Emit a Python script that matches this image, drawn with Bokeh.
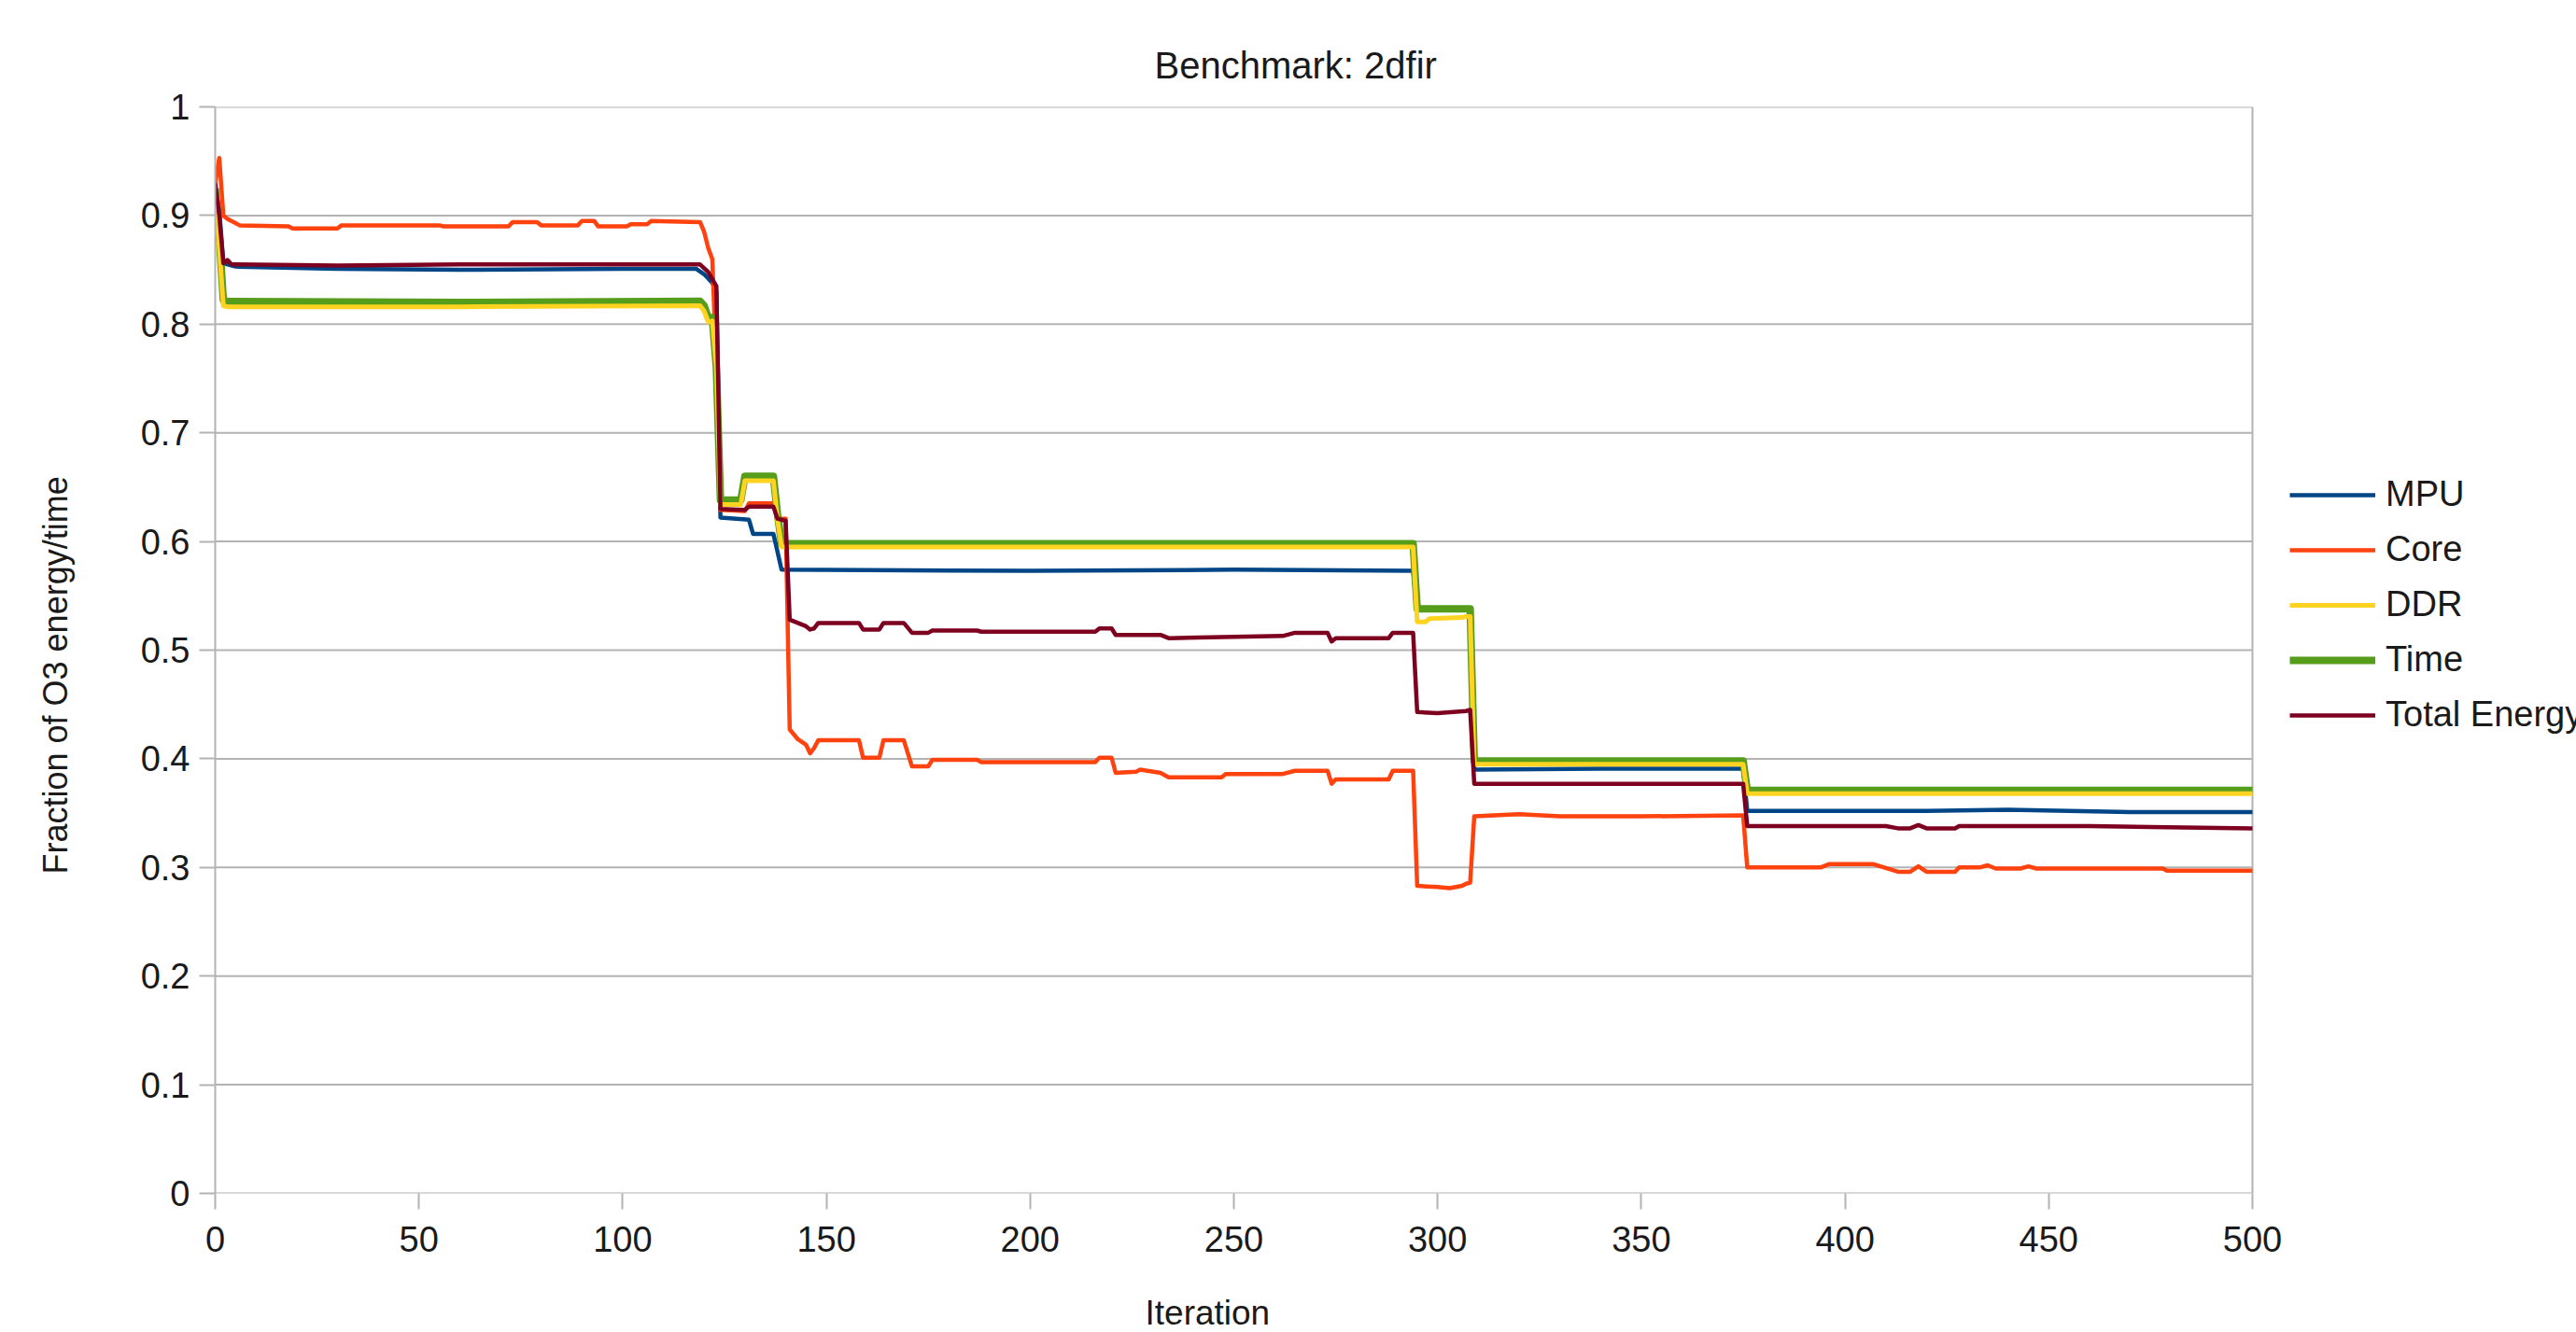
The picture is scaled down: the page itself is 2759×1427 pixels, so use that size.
from bokeh.plotting import figure
from bokeh.models import Legend, LegendItem, FixedTicker, Title
from bokeh.embed import file_html
from bokeh.resources import INLINE

# ---------------- data ----------------
series_names = ["MPU", "Core", "DDR", "Time", "Total Energy"]

mpu_x = [0, 1, 2, 5, 30, 60, 100, 118, 120, 122, 123, 124, 131, 132, 137, 139, 200, 250, 294, 295, 308, 309, 340, 375, 376, 420, 440, 470, 500]
mpu_y = [0.925, 0.905, 0.856, 0.853, 0.851, 0.850, 0.851, 0.851, 0.846, 0.838, 0.830, 0.622, 0.620, 0.607, 0.607, 0.574, 0.573, 0.574, 0.573, 0.538, 0.538, 0.390, 0.391, 0.391, 0.352, 0.352, 0.353, 0.351, 0.351]

core_x = [0, 1, 2, 3, 6, 18, 19, 30, 31, 55, 56, 72, 73, 79, 80, 89, 90, 93, 94, 101, 102, 106, 107, 119, 120, 121, 122, 123, 124, 130, 131, 137, 138, 140, 141, 143, 145, 146, 147, 148, 158, 159, 163, 164, 169, 171, 175, 176, 187, 188, 216, 217, 220, 221, 226, 227, 232, 234, 247, 248, 262, 265, 273, 274, 275, 288, 289, 294, 295, 300, 303, 306, 307, 308, 309, 320, 330, 350, 375, 376, 394, 396, 407, 413, 416, 418, 420, 427, 428, 433, 435, 437, 443, 445, 447, 478, 479, 500]
core_y = [0.930, 0.953, 0.900, 0.897, 0.891, 0.890, 0.888, 0.888, 0.891, 0.891, 0.890, 0.890, 0.894, 0.894, 0.891, 0.891, 0.895, 0.895, 0.890, 0.890, 0.892, 0.892, 0.895, 0.894, 0.885, 0.870, 0.860, 0.760, 0.629, 0.628, 0.635, 0.635, 0.621, 0.621, 0.427, 0.418, 0.413, 0.405, 0.410, 0.417, 0.417, 0.401, 0.401, 0.417, 0.417, 0.393, 0.393, 0.399, 0.399, 0.397, 0.397, 0.401, 0.401, 0.387, 0.388, 0.390, 0.387, 0.383, 0.383, 0.386, 0.386, 0.389, 0.389, 0.377, 0.381, 0.381, 0.389, 0.389, 0.283, 0.282, 0.281, 0.283, 0.285, 0.286, 0.347, 0.349, 0.347, 0.347, 0.348, 0.300, 0.300, 0.303, 0.303, 0.296, 0.296, 0.301, 0.296, 0.296, 0.300, 0.300, 0.302, 0.299, 0.299, 0.301, 0.299, 0.299, 0.297, 0.297]

ddr_x = [0, 1, 2, 3, 60, 119, 120, 121, 122, 123, 124, 129, 130, 137, 138, 139, 294, 295, 297, 298, 306, 307, 308, 309, 375, 376, 500]
ddr_y = [0.920, 0.870, 0.817, 0.816, 0.816, 0.817, 0.812, 0.802, 0.803, 0.760, 0.634, 0.634, 0.656, 0.656, 0.620, 0.595, 0.595, 0.526, 0.526, 0.529, 0.530, 0.531, 0.531, 0.395, 0.395, 0.368, 0.368]

time_x = [0, 1, 2, 3, 60, 119, 120, 121, 122, 123, 124, 129, 130, 137, 138, 139, 294, 295, 308, 309, 375, 376, 500]
time_y = [0.925, 0.880, 0.822, 0.821, 0.820, 0.821, 0.817, 0.806, 0.806, 0.760, 0.638, 0.638, 0.660, 0.660, 0.625, 0.598, 0.598, 0.538, 0.538, 0.398, 0.398, 0.371, 0.371]

total_x = [0, 1, 2, 3, 4, 30, 60, 100, 119, 121, 123, 124, 130, 131, 137, 138, 140, 141, 145, 146, 147, 148, 158, 159, 163, 164, 169, 171, 175, 176, 187, 188, 216, 217, 220, 221, 232, 234, 262, 265, 273, 274, 275, 288, 289, 294, 295, 300, 307, 308, 309, 350, 375, 376, 410, 413, 416, 418, 420, 427, 428, 460, 479, 500]
total_y = [0.930, 0.900, 0.856, 0.859, 0.855, 0.854, 0.855, 0.855, 0.855, 0.848, 0.835, 0.630, 0.629, 0.632, 0.632, 0.621, 0.619, 0.528, 0.522, 0.519, 0.520, 0.525, 0.525, 0.519, 0.519, 0.525, 0.525, 0.516, 0.516, 0.518, 0.518, 0.517, 0.517, 0.520, 0.520, 0.514, 0.514, 0.511, 0.513, 0.516, 0.516, 0.508, 0.511, 0.511, 0.516, 0.516, 0.443, 0.442, 0.444, 0.445, 0.377, 0.377, 0.377, 0.338, 0.338, 0.336, 0.336, 0.339, 0.336, 0.336, 0.338, 0.338, 0.337, 0.336]

x_ticks = [0, 50, 100, 150, 200, 250, 300, 350, 400, 450, 500]
y_ticks = [0, 0.1, 0.2, 0.3, 0.4, 0.5, 0.6, 0.7, 0.8, 0.9, 1]
y_tick_labels = ["0", "0.1", "0.2", "0.3", "0.4", "0.5", "0.6", "0.7", "0.8", "0.9", "1"]
x_min, x_max = 0, 500
y_min, y_max = 0, 1

# ---------------- layout / styling ----------------
FONT = "Liberation Sans"
GRID = "#b3b3b3"
TEXT = "#1a1a1a"
colors = {"MPU": "#004586", "Core": "#ff420e", "DDR": "#ffd320", "Time": "#579d1c", "Total Energy": "#7e0021"}

W, H = 2759, 1427
PLOT_LEFT, PLOT_RIGHT = 230, 2412          # pixel extent of the 0..500 plot area
# the frame runs to the right canvas edge so the legend can sit beside the plot area
view_x_end = x_max * (W - PLOT_LEFT) / (PLOT_RIGHT - PLOT_LEFT)

p = figure(width=W, height=H, output_backend="svg", toolbar_location=None,
           x_range=(x_min, view_x_end), y_range=(y_min, y_max),
           min_border_left=PLOT_LEFT, min_border_right=0, min_border_top=114, min_border_bottom=149,
           title=None)

p.background_fill_color = "white"
p.border_fill_color = "white"
p.outline_line_color = None

title = Title(text="Benchmark: 2dfir", align="left", offset=1006,
              text_font=FONT, text_font_size="40px", text_font_style="normal",
              text_color=TEXT, standoff=46)
p.add_layout(title, "above")

p.xgrid.visible = False
p.ygrid.visible = False

# horizontal grid lines and right border of the plot area (0..500)
p.segment(x0=[x_min] * len(y_ticks), y0=y_ticks, x1=[x_max] * len(y_ticks), y1=y_ticks,
          line_color=GRID, line_width=2)
p.segment(x0=[x_max], y0=[y_min], x1=[x_max], y1=[y_max], line_color=GRID, line_width=2)

p.xaxis.ticker = FixedTicker(ticks=x_ticks)
p.yaxis.ticker = FixedTicker(ticks=y_ticks)
p.yaxis.major_label_overrides = {t: l for t, l in zip(y_ticks, y_tick_labels)}

for ax in (p.xaxis[0], p.yaxis[0]):
    ax.axis_line_color = GRID
    ax.axis_line_width = 2
    ax.major_tick_line_color = GRID
    ax.major_tick_line_width = 2
    ax.major_tick_in = 0
    ax.major_tick_out = 17
    ax.minor_tick_line_color = None
    ax.major_label_text_font = FONT
    ax.major_label_text_font_size = "38px"
    ax.major_label_text_color = TEXT
    # blank spacer label: pushes the axis title outward
    ax.axis_label = " "
    ax.axis_label_text_font_size = "1px"
p.xaxis.axis_line_color = None
p.xaxis.major_label_standoff = 18
p.yaxis.major_label_standoff = 10
p.xaxis.axis_label_standoff = 36
p.yaxis.axis_label_standoff = 64

ylab = Title(text="Fraction of O3 energy/time", align="left", offset=342,
             text_font=FONT, text_font_size="36px", text_font_style="normal",
             text_color=TEXT, standoff=0)
p.add_layout(ylab, "left")

xlab = Title(text="Iteration", align="left", offset=996,
             text_font=FONT, text_font_size="37px", text_font_style="normal",
             text_color=TEXT, standoff=0)
p.add_layout(xlab, "below")

r_mpu = p.line(mpu_x, mpu_y, line_color=colors["MPU"], line_width=4.5, line_join="round")
r_core = p.line(core_x, core_y, line_color=colors["Core"], line_width=4.5, line_join="round")
r_time = p.line(time_x, time_y, line_color=colors["Time"], line_width=8, line_join="round")
r_ddr = p.line(ddr_x, ddr_y, line_color=colors["DDR"], line_width=5, line_join="round")
r_total = p.line(total_x, total_y, line_color=colors["Total Energy"], line_width=4.5, line_join="round")

renderers = {"MPU": r_mpu, "Core": r_core, "DDR": r_ddr, "Time": r_time, "Total Energy": r_total}
legend = Legend(items=[LegendItem(label=n, renderers=[renderers[n]]) for n in series_names],
                location=(2222, 491))
legend.border_line_alpha = 0
legend.background_fill_alpha = 0
legend.padding = 0
legend.margin = 0
legend.spacing = 16
legend.glyph_width = 92
legend.glyph_height = 40
legend.label_height = 40
legend.label_standoff = 11
legend.label_text_font = FONT
legend.label_text_font_size = "38px"
legend.label_text_color = TEXT
p.add_layout(legend)

open("out.html", "w").write(file_html(p, INLINE))
